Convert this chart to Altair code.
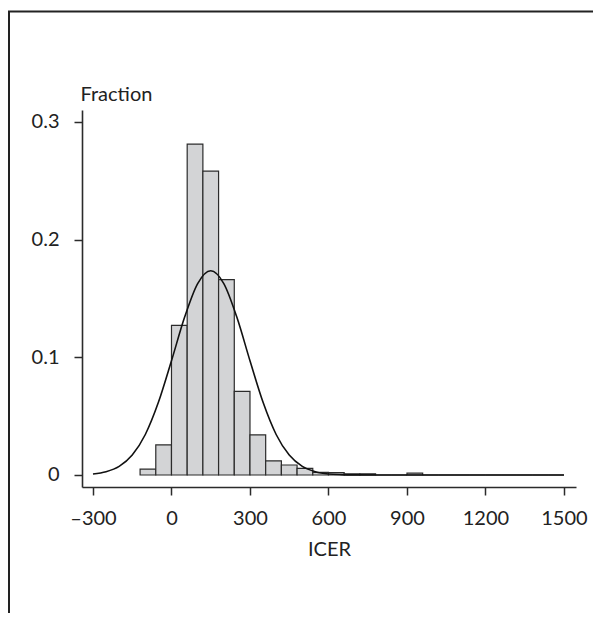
import altair as alt
import pandas as pd

# Histogram: bin starts (width 60) and fraction per bin
bin_start = [-120, -60, 0, 60, 120, 180, 240, 300, 360, 420, 480, 540, 600, 660,
             720, 780, 840, 900, 960, 1020, 1080, 1140, 1200, 1260, 1320, 1380, 1440]
fraction = [0.005, 0.0255, 0.127, 0.281, 0.258, 0.166, 0.071, 0.034, 0.012, 0.0085,
            0.0057, 0.0023, 0.002, 0.001, 0.001, 0.0, 0.0, 0.0015, 0.0, 0.0,
            0.0, 0.0, 0.0, 0.0, 0.0, 0.0, 0.0]
bin_width = 60

# Overlaid normal curve
curve_x = [-300, -250, -200, -150, -100, -50, 0, 50, 100, 150, 200, 250, 300,
           350, 400, 450, 500, 550, 600, 650, 700, 800, 1000, 1200, 1500]
curve_y = [0.0009, 0.0028, 0.0073, 0.0169, 0.0344, 0.0617, 0.0970, 0.1339, 0.1626,
           0.1735, 0.1626, 0.1339, 0.0970, 0.0617, 0.0344, 0.0169, 0.0073, 0.0028,
           0.0009, 0.0003, 0.0001, 0.0, 0.0, 0.0, 0.0]

x_ticks = [-300, 0, 300, 600, 900, 1200, 1500]
y_ticks = [0, 0.1, 0.2, 0.3]

FONT = "Lato"
INK = "#2b2b2b"

hist = pd.DataFrame({
    "start": bin_start,
    "end": [b + bin_width for b in bin_start],
    "frac": fraction,
})
curve = pd.DataFrame({"x": curve_x, "y": curve_y})

xscale = alt.Scale(domain=[-342, 1546], nice=False, zero=False)
yscale = alt.Scale(domain=[-0.0102, 0.31], nice=False, zero=False)

xaxis = alt.Axis(
    title="ICER", values=x_ticks, grid=False,
    labelExpr="datum.value < 0 ? '\u2013' + format(-datum.value, 'd') : format(datum.value, 'd')",
    labelFontSize=20, labelFont=FONT, labelColor="#222", labelPadding=13,
    titleFontSize=20, titleFont=FONT, titleFontWeight="normal", titleColor="#222",
    titlePadding=11,
    tickSize=8, tickWidth=1.5, tickColor=INK, domainColor=INK, domainWidth=1.6,
)
yaxis = alt.Axis(
    title="Fraction", values=y_ticks, grid=False,
    labelExpr="datum.value == 0 ? '0' : format(datum.value, '.1f')",
    labelFontSize=20, labelFont=FONT, labelColor="#222", labelPadding=15,
    titleFontSize=20, titleFont=FONT, titleFontWeight="normal", titleColor="#222",
    titleAngle=0, titleAlign="left", titleBaseline="alphabetic", titleX=-2, titleY=-10,
    tickSize=8, tickWidth=1.5, tickColor=INK, domainColor=INK, domainWidth=1.6,
)

bars = alt.Chart(hist).mark_rect(
    fill="#d3d4d6", stroke=INK, strokeWidth=1.2
).encode(
    x=alt.X("start:Q", scale=xscale, axis=xaxis),
    x2="end:Q",
    y=alt.Y("frac:Q", scale=yscale, axis=yaxis),
    y2=alt.datum(0),
)

line = alt.Chart(curve).mark_line(
    color="#111", strokeWidth=1.6, interpolate="monotone"
).encode(
    x=alt.X("x:Q", scale=xscale),
    y=alt.Y("y:Q", scale=yscale),
)

dummy = pd.DataFrame({"a": [0]})
frame_left = alt.Chart(dummy).mark_rule(color="#222", strokeWidth=2).encode(
    x=alt.value(-73), y=alt.value(-98.5), y2=alt.value(503)
)
frame_top = alt.Chart(dummy).mark_rule(color="#222", strokeWidth=2).encode(
    x=alt.value(-74), x2=alt.value(511), y=alt.value(-98.5)
)

chart = alt.layer(bars, line, frame_left, frame_top).properties(
    width=494, height=377,
    autosize=alt.AutoSizeParams(type="none"),
    padding={"left": 74, "top": 102, "right": 17, "bottom": 126},
    background="white",
).configure_view(stroke=None)

chart.save("out.html", embed_options={"renderer": "svg", "actions": False})
